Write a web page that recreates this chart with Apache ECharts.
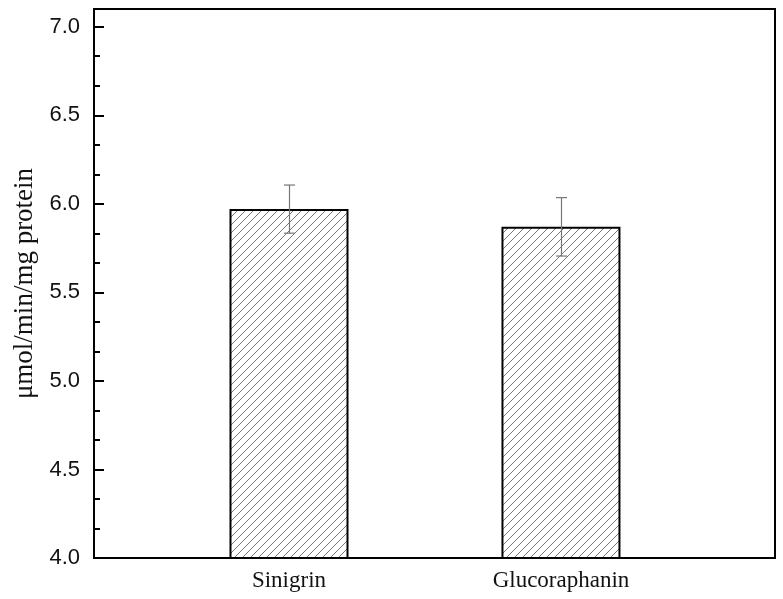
<!DOCTYPE html>
<html>
<head>
<meta charset="utf-8">
<script src="https://cdn.jsdelivr.net/npm/echarts@6/dist/echarts.min.js"></script>
<style>html,body{margin:0;padding:0;background:#fff;}#c{width:783px;height:599px;}</style>
</head>
<body>
<div id="c"></div>
<script>
var categories = ['Sinigrin', 'Glucoraphanin'];
var positions = [1, 2];
var means = [5.97, 5.87];
var errors = [0.136, 0.165];
var yTicks = [4.0, 4.5, 5.0, 5.5, 6.0, 6.5, 7.0];

function makePattern() {
  var cv = document.createElement('canvas');
  var s = 8;
  cv.width = s; cv.height = s;
  var ctx = cv.getContext('2d');
  ctx.fillStyle = '#ffffff';
  ctx.fillRect(0, 0, s, s);
  ctx.strokeStyle = '#777777';
  ctx.lineWidth = 1;
  ctx.beginPath();
  ctx.moveTo(0, s); ctx.lineTo(s, 0);
  ctx.moveTo(-s/2, s/2); ctx.lineTo(s/2, -s/2);
  ctx.moveTo(s/2, s*1.5); ctx.lineTo(s*1.5, s/2);
  ctx.stroke();
  return cv;
}

var barData = positions.map(function (p, i) { return [p, means[i]]; });
var errData = positions.map(function (p, i) { return [p, means[i] - errors[i], means[i] + errors[i]]; });

var chart = echarts.init(document.getElementById('c'), null, {renderer: 'canvas'});
chart.setOption({
  backgroundColor: '#fff',
  animation: false,
  grid: {left: 94, right: 8, top: 9, bottom: 41, show: true, borderColor: '#000', borderWidth: 2, backgroundColor: 'transparent'},
  xAxis: {
    type: 'value', min: 0.283, max: 2.787,
    splitLine: {show: false},
    axisLine: {show: true, lineStyle: {color: '#000', width: 2}},
    axisTick: {show: false},
    axisLabel: {
      customValues: positions,
      formatter: function (v) { var i = positions.indexOf(v); return i >= 0 ? categories[i] : ''; },
      fontFamily: 'Liberation Serif', fontSize: 23, color: '#111', margin: 11
    }
  },
  yAxis: [{
    type: 'value', min: 4.0, max: 7.1, interval: 0.5,
    name: 'μmol/min/mg protein', nameLocation: 'middle', nameGap: 55,
    nameTextStyle: {fontFamily: 'Liberation Serif', fontSize: 27, color: '#111'},
    splitLine: {show: false},
    axisLine: {show: true, lineStyle: {color: '#000', width: 2}},
    axisTick: {show: true, inside: true, length: 10, lineStyle: {color: '#000', width: 2}, customValues: yTicks},
    axisLabel: {customValues: yTicks, formatter: function (v) { return v.toFixed(1); }, fontFamily: 'Liberation Sans', fontSize: 22, color: '#111', margin: 14}
  }, {
    type: 'value', min: 4.0, max: 7.1, position: 'left',
    splitLine: {show: false},
    axisLine: {show: false},
    axisTick: {show: true, inside: true, length: 6, lineStyle: {color: '#000', width: 2},
      customValues: [4.1667, 4.3333, 4.6667, 4.8333, 5.1667, 5.3333, 5.6667, 5.8333, 6.1667, 6.3333, 6.6667, 6.8333]},
    axisLabel: {show: false}
  }],
  series: [{
    type: 'bar',
    data: barData,
    barWidth: 119,
    itemStyle: {color: {image: makePattern(), repeat: 'repeat'}, borderColor: '#000', borderWidth: 2}
  }, {
    type: 'custom',
    data: errData,
    renderItem: function (params, api) {
      var x = api.value(0);
      var lo = api.coord([x, api.value(1)]);
      var hi = api.coord([x, api.value(2)]);
      var cx = Math.round(lo[0]) + 0.5;
      var w = 5.5;
      var st = {stroke: '#777', lineWidth: 1.2, fill: null};
      return {type: 'group', children: [
        {type: 'line', shape: {x1: cx, y1: lo[1], x2: cx, y2: hi[1]}, style: st},
        {type: 'line', shape: {x1: cx - w, y1: lo[1], x2: cx + w, y2: lo[1]}, style: st},
        {type: 'line', shape: {x1: cx - w, y1: hi[1], x2: cx + w, y2: hi[1]}, style: st}
      ]};
    },
    z: 10
  }]
});
</script>
</body>
</html>
